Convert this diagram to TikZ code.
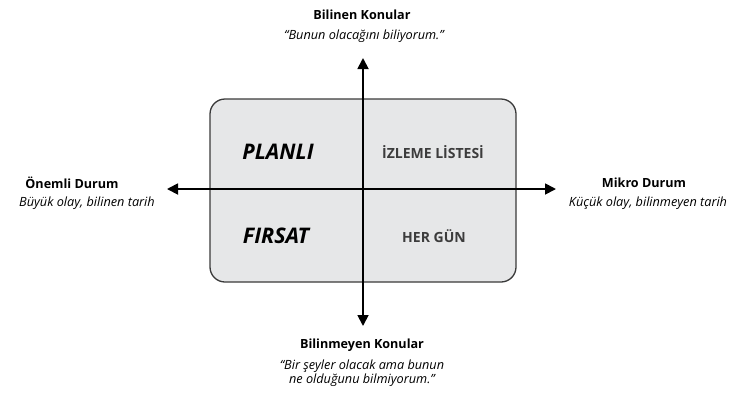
\documentclass[tikz,border=0pt]{standalone}
\usepackage{fontspec}
\setmainfont{Open Sans}
\usetikzlibrary{arrows.meta}
\definecolor{boxfill}{HTML}{E6E7E8}
\definecolor{boxline}{HTML}{3A3A3A}
\definecolor{qtext}{HTML}{3C3C3C}
\tikzset{
  axis/.style={line width=1.8pt, -{Triangle[length=11pt,width=11pt]}},
  head/.style={font=\fontsize{12.6}{15}\selectfont\bfseries, inner sep=0pt},
  sub/.style={font=\fontsize{12.7}{14.5}\selectfont\itshape, inner sep=0pt, align=center},
  big/.style={font=\fontsize{21.5}{24}\selectfont\bfseries\itshape, inner sep=0pt},
  small/.style={font=\fontsize{14}{16}\selectfont\bfseries, text=qtext, inner sep=0pt},
}
\begin{document}
\begin{tikzpicture}[x=1pt,y=-1pt]
\useasboundingbox (0,0) rectangle (734,392);
\node[draw=boxline, line width=1.3pt, fill=boxfill, rounded corners=15pt,
  minimum width=306pt, minimum height=183pt, inner sep=0pt] (box) at (363,190.5) {};
\coordinate (c) at (363,189);
\coordinate (top) at (363,58);
\coordinate (bot) at (363,326);
\coordinate (lft) at (167,189);
\coordinate (rgt) at (556,189);
\draw[axis] (c) -- (top);
\draw[axis] (c) -- (bot);
\draw[axis] (c) -- (lft);
\draw[axis] (c) -- (rgt);
\node[head] (tk) at (362,15) {Bilinen Konular};
\node[sub] (tq) at (364,36) {“Bunun olacağını biliyorum.”};
\node[head] (lk) at (72,183) {Önemli Durum};
\node[sub] (lq) at (87,203) {Büyük olay, bilinen tarih};
\node[head] (rk) at (644,183) {Mikro Durum};
\node[sub] (rq) at (648,203) {Küçük olay, bilinmeyen tarih};
\node[head] (bk) at (362,345) {Bilinmeyen Konular};
\node[sub] (bq) at (362,373) {“Bir şeyler olacak ama bunun\\ne olduğunu bilmiyorum.”};
\node[big] (pl) at (278,152) {PLANLI};
\node[big] (fi) at (276,236) {FIRSAT};
\node[small] (iz) at (433,152) {İZLEME LİSTESİ};
\node[small] (hg) at (434,236) {HER GÜN};
\end{tikzpicture}
\end{document}
